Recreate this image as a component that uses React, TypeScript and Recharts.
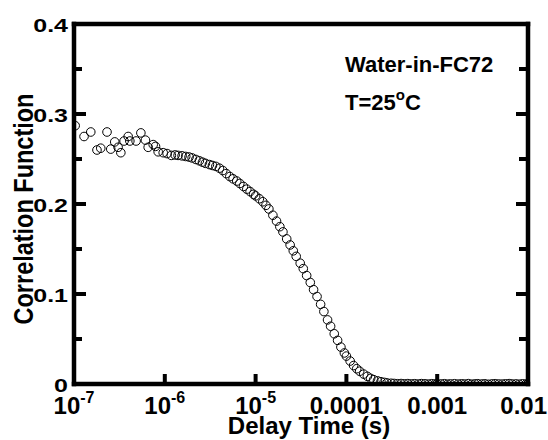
import React from 'react';
import { ScatterChart, Scatter, XAxis, YAxis } from 'recharts';

const FONT = '"Liberation Sans", Arial, Helvetica, sans-serif';

// Delay time (s)
const delayTime = [
  1.03e-7, 1.29e-7, 1.53e-7, 1.79e-7, 1.97e-7, 2.31e-7, 2.54e-7, 2.81e-7, 3.06e-7, 3.28e-7,
  3.56e-7, 3.95e-7, 4.12e-7, 4.83e-7, 5.45e-7, 6.12e-7, 6.56e-7, 7.45e-7, 7.9e-7, 8.45e-7,
  9.6e-7, 1.06e-6, 1.18e-6,
  1.3e-6, 1.4e-6, 1.55e-6, 1.7e-6, 1.85e-6, 2.0e-6, 2.2e-6, 2.4e-6, 2.6e-6, 2.8e-6,
  3.1e-6, 3.35e-6, 3.65e-6, 4.0e-6, 4.35e-6, 4.75e-6, 5.2e-6, 5.65e-6, 6.2e-6, 6.7e-6,
  7.35e-6, 8.0e-6, 8.7e-6, 9.5e-6,
  1.0e-5, 1.1e-5, 1.2e-5, 1.3e-5, 1.4e-5, 1.55e-5, 1.7e-5, 1.85e-5, 2.0e-5, 2.2e-5,
  2.4e-5, 2.6e-5, 2.8e-5, 3.1e-5, 3.35e-5, 3.65e-5, 4.0e-5, 4.35e-5, 4.75e-5, 5.2e-5,
  5.65e-5, 6.2e-5, 6.7e-5, 7.35e-5, 8.0e-5, 8.7e-5, 9.5e-5,
  1.0e-4, 1.1e-4, 1.2e-4, 1.3e-4, 1.4e-4, 1.55e-4, 1.7e-4, 1.85e-4, 2.0e-4, 2.2e-4,
  2.4e-4, 2.6e-4, 2.8e-4, 3.1e-4, 3.35e-4, 3.65e-4, 4.0e-4, 4.35e-4, 4.75e-4, 5.2e-4,
  5.65e-4, 6.2e-4, 6.7e-4, 7.35e-4, 8.0e-4, 8.7e-4, 9.5e-4,
  1.0e-3, 1.1e-3, 1.2e-3, 1.3e-3, 1.4e-3, 1.55e-3, 1.7e-3, 1.85e-3, 2.0e-3, 2.2e-3,
  2.4e-3, 2.6e-3, 2.8e-3, 3.1e-3, 3.35e-3, 3.65e-3, 4.0e-3, 4.35e-3, 4.75e-3, 5.2e-3,
  5.65e-3, 6.2e-3, 6.7e-3, 7.35e-3, 8.0e-3, 8.7e-3, 9.5e-3, 1.0e-2,
];

// Correlation function
const correlation = [
  0.287, 0.275, 0.28, 0.26, 0.262, 0.28, 0.261, 0.269, 0.263, 0.257,
  0.27, 0.275, 0.27, 0.27, 0.279, 0.271, 0.263, 0.266, 0.264, 0.258,
  0.257, 0.256, 0.254,
  0.2545, 0.254, 0.2535, 0.2528, 0.2522, 0.2512, 0.2495, 0.248, 0.2465, 0.2452,
  0.2438, 0.2428, 0.2418, 0.2398, 0.2372, 0.2338, 0.2305, 0.228, 0.2255, 0.2228,
  0.2195, 0.2165, 0.2138, 0.2108,
  0.209, 0.2058, 0.2025, 0.1985, 0.1945, 0.1875, 0.181, 0.1748, 0.169, 0.1612,
  0.1545, 0.148, 0.1418, 0.1342, 0.1282, 0.1205, 0.1128, 0.1048, 0.0972, 0.0885,
  0.0805, 0.0712, 0.0642, 0.0558, 0.0485, 0.041, 0.0345,
  0.031, 0.0255, 0.0205, 0.017, 0.0142, 0.011, 0.0085, 0.0063, 0.0048, 0.0035,
  0.0025, 0.0018, 0.0012, 0.0008, 0.0006, 0.0003, 0.0005, 0.0002, 0.0004, 0.0001,
  0.0003, 0.0, 0.0004, 0.0002, -0.0001, 0.0003, 0.0001,
  0.0002, 0.0, 0.0003, -0.0002, 0.0001, 0.0003, -0.0001, 0.0002, 0.0, 0.0004,
  -0.0002, 0.0001, 0.0003, 0.0, 0.0002, -0.0003, 0.0001, 0.0003, 0.0, -0.0001,
  0.0002, 0.0004, 0.0, 0.0001, -0.0002, 0.0002, 0.0, 0.0001,
];

const xTicks = [1e-7, 1e-6, 1e-5, 1e-4, 1e-3, 1e-2];
const xTickLabels = ['10^-7', '10^-6', '10^-5', '0.0001', '0.001', '0.01'];

const yTicks = [0, 0.05, 0.1, 0.15, 0.2, 0.25, 0.3, 0.35, 0.4];
const yTickLabels = ['0', '', '0.1', '', '0.2', '', '0.3', '', '0.4'];

const xTitle = 'Delay Time (s)';
const yTitle = 'Correlation Function';
const annotation1 = 'Water-in-FC72';

const data = delayTime.map((t, i) => ({ t, g: correlation[i] }));

const W = 548;
const H = 440;
const AX = { stroke: '#000', strokeWidth: 4.5, strokeLinecap: 'square' as const };
const TW = 4;

const BottomTick = (props: any) => {
  const { x, y, payload } = props;
  const i = xTicks.indexOf(payload.value);
  const label = xTickLabels[i] ?? '';
  const parts = label.split('^');
  const last = i === xTicks.length - 1;
  return (
    <g>
      <line x1={x} y1={y} x2={x} y2={y - 10} stroke="#000" strokeWidth={TW} />
      <text
        x={last ? W - 1 : x}
        y={y + 30}
        textAnchor={last ? 'end' : 'middle'}
        fontFamily={FONT}
        fontWeight="bold"
        fontSize={24}
        fill="#000"
      >
        <tspan>{parts[0]}</tspan>
        {parts[1] ? (
          <tspan fontSize={16} dy={-11}>
            {parts[1]}
          </tspan>
        ) : null}
      </text>
    </g>
  );
};

const TopTick = (props: any) => {
  const { x, y } = props;
  return <line x1={x} y1={y} x2={x} y2={y + 11} stroke="#000" strokeWidth={TW} />;
};

const LeftTick = (props: any) => {
  const { x, y, payload } = props;
  const i = yTicks.indexOf(payload.value);
  const label = yTickLabels[i] ?? '';
  const major = label !== '';
  return (
    <g>
      <line x1={x} y1={y} x2={x + (major ? 12 : 8)} y2={y} stroke="#000" strokeWidth={TW} />
      {major ? (
        <text
          transform={`translate(${x - 6}, ${y + 8}) scale(1, 0.76)`}
          textAnchor="end"
          fontFamily={FONT}
          fontWeight="bold"
          fontSize={25}
          fill="#000"
        >
          {label}
        </text>
      ) : null}
    </g>
  );
};

const RightTick = (props: any) => {
  const { x, y, payload } = props;
  const i = yTicks.indexOf(payload.value);
  const major = (yTickLabels[i] ?? '') !== '';
  return <line x1={x} y1={y} x2={x - (major ? 12 : 9)} y2={y} stroke="#000" strokeWidth={TW} />;
};

const Ring = (props: any) => {
  const { cx, cy } = props;
  if (cx == null || cy == null) return null;
  return <circle cx={cx} cy={cy} r={4.3} fill="none" stroke="#000" strokeWidth={1} />;
};

export default function App() {
  return (
    <div style={{ position: 'absolute', left: 0, top: 0, width: W, height: H, background: '#fff' }}>
      <ScatterChart width={W} height={H} margin={{ top: 23, right: 19, bottom: 55, left: 73 }}>
        <XAxis
          dataKey="t"
          type="number"
          scale="log"
          domain={[1e-7, 1e-2]}
          allowDataOverflow
          ticks={xTicks}
          interval={0}
          height={1}
          tickSize={0}
          tickMargin={0}
          tickLine={false}
          axisLine={AX}
          tick={<BottomTick />}
        />
        <XAxis
          xAxisId="top"
          orientation="top"
          type="number"
          scale="log"
          domain={[1e-7, 1e-2]}
          allowDataOverflow
          ticks={xTicks}
          interval={0}
          height={1}
          tickSize={0}
          tickMargin={0}
          tickLine={false}
          axisLine={AX}
          tick={<TopTick />}
        />
        <YAxis
          dataKey="g"
          type="number"
          domain={[0, 0.4]}
          allowDataOverflow
          ticks={yTicks}
          interval={0}
          width={1}
          tickSize={0}
          tickMargin={0}
          tickLine={false}
          axisLine={AX}
          tick={<LeftTick />}
        />
        <YAxis
          yAxisId="right"
          orientation="right"
          type="number"
          domain={[0, 0.4]}
          allowDataOverflow
          ticks={yTicks}
          interval={0}
          width={1}
          tickSize={0}
          tickMargin={0}
          tickLine={false}
          axisLine={AX}
          tick={<RightTick />}
        />
        <Scatter data={data} shape={<Ring />} isAnimationActive={false} />
      </ScatterChart>
      <svg
        width={W}
        height={H}
        style={{ position: 'absolute', left: 0, top: 0, pointerEvents: 'none' }}
      >
        <text
          x={309}
          y={434}
          textAnchor="middle"
          fontFamily={FONT}
          fontWeight="bold"
          fontSize={24}
          fill="#000"
        >
          {xTitle}
        </text>
        <text
          transform="translate(33, 209) scale(1.2, 1) rotate(-90)"
          textAnchor="middle"
          fontFamily={FONT}
          fontWeight="bold"
          fontSize={23.5}
          fill="#000"
        >
          {yTitle}
        </text>
        <text x={345} y={72} fontFamily={FONT} fontWeight="bold" fontSize={22} fill="#000">
          {annotation1}
        </text>
        <text x={345} y={110} fontFamily={FONT} fontWeight="bold" fontSize={22} fill="#000">
          <tspan>T=25</tspan>
          <tspan fontSize={15} dy={-10}>o</tspan>
          <tspan dy={10}>C</tspan>
        </text>
      </svg>
    </div>
  );
}
